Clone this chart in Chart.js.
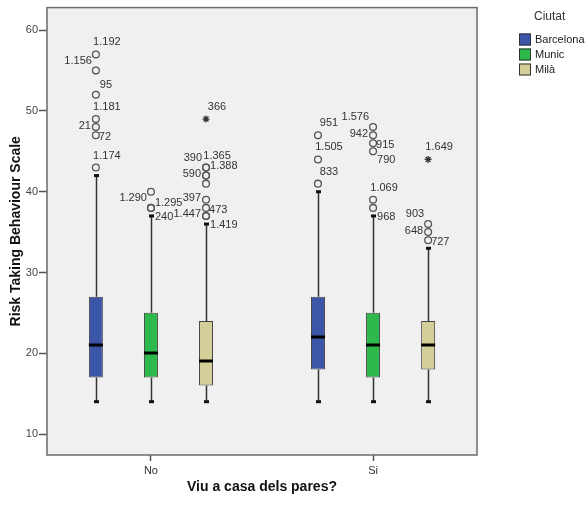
<!DOCTYPE html>
<html>
<head>
<meta charset="utf-8">
<script src="https://cdn.jsdelivr.net/npm/chart.js@4.4.1/dist/chart.umd.min.js"></script>
<style>
  html, body { margin: 0; padding: 0; background: #fff; }
  #wrap { width: 587px; height: 506px; }
</style>
</head>
<body>
<div id="wrap"><canvas id="c"></canvas></div>
<script>
// ── Data ────────────────────────────────────────────────────────────────────
const categories = ["No", "Si"];
const cities = ["Barcelona", "Munic", "Milà"];
const cityColors = ["#3b55a9", "#2eb94c", "#d4cf98"];

// per city → [No, Si]
const whiskerLow  = [[14, 14], [14, 14], [14, 14]];
const q1          = [[17, 18], [17, 17], [16, 18]];
const median      = [[21, 22], [20, 21], [19, 21]];
const q3          = [[27, 27], [25, 25], [24, 24]];
const whiskerHigh = [[42, 40], [37, 37], [36, 33]];

// outliers: [city, category, value, case label, extreme?, label side]
const outliers = [
  [0, 0, 57, "1.192", 0, "n"],
  [0, 0, 55, "1.156", 0, "nw"],
  [0, 0, 52, "95", 0, "ne"],
  [0, 0, 49, "1.181", 0, "n"],
  [0, 0, 48, "21", 0, "w"],
  [0, 0, 47, "72", 0, "e"],
  [0, 0, 43, "1.174", 0, "n"],
  [1, 0, 40, "1.290", 0, "sw"],
  [1, 0, 38, "1.295", 0, "ene"],
  [1, 0, 38, "240", 0, "se"],
  [2, 0, 49, "366", 1, "n"],
  [2, 0, 43, "390", 0, "nw"],
  [2, 0, 43, "1.365", 0, "n"],
  [2, 0, 42, "1.388", 0, "ne"],
  [2, 0, 42, "590", 0, "w"],
  [2, 0, 41, "", 0, ""],
  [2, 0, 39, "397", 0, "w"],
  [2, 0, 38, "473", 0, "e"],
  [2, 0, 37, "1.447", 0, "w"],
  [2, 0, 37, "1.419", 0, "se"],
  [0, 1, 47, "951", 0, "n"],
  [0, 1, 44, "1.505", 0, "n"],
  [0, 1, 41, "833", 0, "n"],
  [1, 1, 48, "1.576", 0, "nw"],
  [1, 1, 47, "942", 0, "w"],
  [1, 1, 46, "915", 0, "e"],
  [1, 1, 45, "790", 0, "se"],
  [1, 1, 39, "1.069", 0, "n"],
  [1, 1, 38, "968", 0, "se"],
  [2, 1, 44, "1.649", 1, "n"],
  [2, 1, 36, "903", 0, "nw"],
  [2, 1, 35, "648", 0, "w"],
  [2, 1, 34, "727", 0, "e"]
];

const yTicks = [10, 20, 30, 40, 50, 60];

// ── Layout helpers ──────────────────────────────────────────────────────────
const GROUP_OFFSET = [-0.248, 0, 0.248];
const FONT = "'Liberation Sans', Arial, sans-serif";

// label side → [dx, dy, textAlign]
const LABEL_SIDES = {
  n:   [11, -12, "center"],
  nw:  [-4, -10, "right"],
  ne:  [4, -9.5, "left"],
  ene: [4, -5, "left"],
  w:   [-5, -1.5, "right"],
  e:   [3, 2, "left"],
  sw:  [-4, 6, "right"],
  se:  [4, 9, "left"]
};

const boxPlugin = {
  id: "boxPlot",
  beforeDraw(chart) {
    const { ctx, chartArea: a } = chart;
    ctx.save();
    ctx.fillStyle = "#f0f0f0";
    ctx.fillRect(a.left, a.top, a.right - a.left, a.bottom - a.top);
    ctx.restore();
  },
  beforeDatasetsDraw(chart) {
    const { ctx, scales } = chart;
    ctx.save();
    ctx.strokeStyle = "#333";
    ctx.fillStyle = "#111";
    ctx.lineWidth = 1.5;
    cities.forEach((_, ci) => {
      categories.forEach((_, k) => {
        const x = Math.round(scales.x.getPixelForValue(k + GROUP_OFFSET[ci])) + 0.5;
        const yHi = scales.y.getPixelForValue(whiskerHigh[ci][k]);
        const yQ3 = scales.y.getPixelForValue(q3[ci][k]);
        const yQ1 = scales.y.getPixelForValue(q1[ci][k]);
        const yLo = scales.y.getPixelForValue(whiskerLow[ci][k]);
        ctx.beginPath();
        ctx.moveTo(x, yHi); ctx.lineTo(x, yQ3);
        ctx.moveTo(x, yQ1); ctx.lineTo(x, yLo);
        ctx.stroke();
        // caps
        [yHi, yLo].forEach(y => ctx.fillRect(x - 2.5, y - 1.5, 5, 3));
      });
    });
    ctx.restore();
  },
  afterDatasetsDraw(chart) {
    const { ctx, scales, chartArea: a } = chart;
    ctx.save();
    // medians
    ctx.strokeStyle = "#000";
    ctx.lineWidth = 3;
    cities.forEach((_, ci) => {
      const meta = chart.getDatasetMeta(ci + 1);
      meta.data.forEach((bar, k) => {
        const y = Math.round(scales.y.getPixelForValue(median[ci][k]));
        ctx.beginPath();
        ctx.moveTo(bar.x - bar.width / 2, y);
        ctx.lineTo(bar.x + bar.width / 2, y);
        ctx.stroke();
      });
    });
    // case labels
    ctx.fillStyle = "#333";
    ctx.font = "11px " + FONT;
    ctx.textBaseline = "middle";
    outliers.forEach(([ci, k, v, label, , side]) => {
      if (!label) return;
      const [dx, dy, align] = LABEL_SIDES[side];
      const x = scales.x.getPixelForValue(k + GROUP_OFFSET[ci]);
      const y = scales.y.getPixelForValue(v);
      ctx.textAlign = align;
      ctx.fillText(label, x + dx, y + dy);
    });
    // frame
    ctx.strokeStyle = "#6a6a6a";
    ctx.lineWidth = 1.5;
    ctx.strokeRect(a.left, a.top, a.right - a.left, a.bottom - a.top);
    ctx.restore();
  },
  afterDraw(chart) {
    const { ctx } = chart;
    ctx.save();
    ctx.fillStyle = "#333";
    ctx.font = "12px " + FONT;
    ctx.textAlign = "left";
    ctx.textBaseline = "middle";
    ctx.fillText("Ciutat", 534, 17);
    ctx.font = "11px " + FONT;
    cities.forEach((name, i) => {
      const y = 33.5 + i * 15;
      ctx.fillStyle = cityColors[i];
      ctx.fillRect(519, y, 12, 12);
      ctx.strokeStyle = "#333";
      ctx.lineWidth = 1;
      ctx.strokeRect(519.5, y + 0.5, 11, 11);
      ctx.fillStyle = "#222";
      ctx.fillText(name, 535, y + 6.5);
    });
    ctx.restore();
  }
};

// ── Datasets ────────────────────────────────────────────────────────────────
const outlierSet = {
  type: "scatter",
  label: "outliers",
  data: outliers.map(([ci, k, v]) => ({ x: k + GROUP_OFFSET[ci], y: v })),
  pointStyle: outliers.map(o => (o[4] ? "star" : "circle")),
  pointRadius: outliers.map(o => (o[4] ? 3.5 : 3.4)),
  borderColor: outliers.map(o => (o[4] ? "#333" : "#555")),
  backgroundColor: "rgba(0,0,0,0)",
  borderWidth: 1.3,
  order: 0
};

const boxSets = cities.map((name, ci) => ({
  type: "bar",
  label: name,
  data: categories.map((_, k) => ({ x: k + GROUP_OFFSET[ci], y: [q1[ci][k], q3[ci][k]] })),
  backgroundColor: cityColors[ci],
  borderColor: "#444",
  borderWidth: 1,
  borderSkipped: false,
  grouped: false,
  maxBarThickness: 14,
  order: 1
}));

new Chart(document.getElementById("c"), {
  type: "bar",
  data: { datasets: [outlierSet, ...boxSets] },
  options: {
    responsive: true,
    maintainAspectRatio: false,
    animation: false,
    layout: { padding: { left: 0, top: 7, right: 110, bottom: 0 } },
    plugins: { legend: { display: false }, tooltip: { enabled: false } },
    scales: {
      x: {
        type: "linear",
        offset: false,
        min: -0.468,
        max: 1.468,
        afterBuildTicks: s => { s.ticks = categories.map((_, k) => ({ value: k })); },
        afterFit: s => { s.height = 51; },
        ticks: {
          callback: v => categories[v] ?? "",
          color: "#333",
          font: { family: FONT, size: 11 },
          padding: 3,
          maxRotation: 0
        },
        grid: { offset: false, drawOnChartArea: false, tickLength: 6, tickColor: "#555", tickWidth: 1.5 },
        border: { display: false },
        title: {
          display: true,
          text: "Viu a casa dels pares?",
          color: "#111",
          font: { family: FONT, size: 14, weight: "bold" },
          padding: { top: 0, bottom: 10 }
        }
      },
      y: {
        min: 7.4,
        max: 62.8,
        afterBuildTicks: s => { s.ticks = yTicks.map(v => ({ value: v })); },
        afterFit: s => { s.width = 47; },
        ticks: {
          color: "#444",
          font: { family: FONT, size: 11 },
          padding: 1
        },
        grid: { drawOnChartArea: false, tickLength: 8, tickColor: "#555", tickWidth: 1.5 },
        border: { display: false },
        title: {
          display: true,
          text: "Risk Taking Behaviour Scale",
          color: "#111",
          font: { family: FONT, size: 14, weight: "bold" },
          padding: { top: 8, bottom: 0 }
        }
      }
    }
  },
  plugins: [boxPlugin]
});
</script>
</body>
</html>
